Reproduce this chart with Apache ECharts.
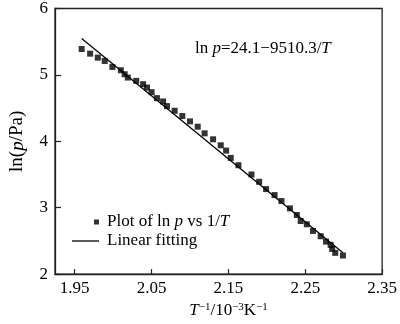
<!DOCTYPE html>
<html>
<head>
<meta charset="utf-8">
<script src="https://cdn.jsdelivr.net/npm/echarts@6/dist/echarts.min.js"></script>
<style>
  html, body { margin: 0; padding: 0; background: #fff; }
  #chart { width: 400px; height: 324px; }
</style>
</head>
<body>
<div id="chart"></div>
<script>
// Measured points: inverse temperature (10^-3 K^-1) and ln p
const invT = [1.959, 1.970, 1.980, 1.989, 1.999, 2.010, 2.015, 2.019, 2.030, 2.039,
              2.044, 2.050, 2.057, 2.065, 2.070, 2.080, 2.090, 2.100, 2.110, 2.119,
              2.130, 2.140, 2.147, 2.153, 2.163, 2.180, 2.190, 2.199, 2.210, 2.219,
              2.230, 2.239, 2.244, 2.252, 2.260, 2.270, 2.277, 2.283, 2.285, 2.289, 2.299];
const lnP = [5.39, 5.32, 5.26, 5.21, 5.12, 5.07, 5.01, 4.96, 4.91, 4.86,
             4.81, 4.74, 4.65, 4.60, 4.53, 4.46, 4.38, 4.30, 4.22, 4.12,
             4.03, 3.94, 3.86, 3.75, 3.64, 3.50, 3.39, 3.28, 3.19, 3.10,
             2.99, 2.89, 2.80, 2.75, 2.65, 2.57, 2.49, 2.44, 2.38, 2.32, 2.28];

// Fitted straight line end points
const fitX = [1.959, 2.299];
const fitY = [5.55, 2.32];

// Tick labels
const xTicks = [1.95, 2.05, 2.15, 2.25, 2.35];
const xTickLabels = ['1.95', '2.05', '2.15', '2.25', '2.35'];
const yTicks = ['2', '3', '4', '5', '6'];

const seriesNames = ['Plot of ln p vs 1/T', 'Linear fitting'];

const INK = '#000';
const FONT = '"Liberation Serif", "Times New Roman", serif';

const chart = echarts.init(document.getElementById('chart'), null, { renderer: 'canvas' });

const scatterData = invT.map((x, i) => [x, lnP[i]]);
const fitData = fitX.map((x, i) => [x, fitY[i]]);

const supRich = {
  i: { fontStyle: 'italic', fontFamily: FONT, fontSize: 17, color: INK },
  r: { fontFamily: FONT, fontSize: 17, color: INK },
  sup: { fontFamily: FONT, fontSize: 11, color: INK, verticalAlign: 'top', padding: [0, 0, 6, 0] }
};

chart.setOption({
  animation: false,
  backgroundColor: '#fff',
  textStyle: { fontFamily: FONT, color: INK },
  grid: {
    left: 42, right: 11, top: 1, bottom: 46,
    show: true, borderColor: '#222', borderWidth: 1.3, backgroundColor: 'transparent'
  },
  xAxis: {
    type: 'value',
    min: 1.9243,
    max: 2.35,
    splitLine: { show: false },
    axisLine: { show: true, onZero: false, lineStyle: { color: '#222', width: 1.3 } },
    axisTick: { show: true, inside: true, length: 5, customValues: xTicks, lineStyle: { color: '#222', width: 1.2 } },
    axisLabel: {
      customValues: xTicks,
      margin: 6,
      fontFamily: FONT, fontSize: 17, color: INK,
      formatter: v => xTickLabels[xTicks.findIndex(t => Math.abs(t - v) < 1e-6)] ?? ''
    },
    name: '{i|T}{sup|−1}{r|/10}{sup|−3}{r|K}{sup|−1}',
    nameLocation: 'middle',
    nameGap: 24,
    nameTextStyle: { rich: supRich, padding: [0, 0, 0, 20] }
  },
  yAxis: {
    type: 'value',
    min: 2, max: 6, interval: 1,
    splitLine: { show: false },
    axisLine: { show: true, onZero: false, lineStyle: { color: '#222', width: 1.3 } },
    axisTick: { show: true, inside: true, length: 6, lineStyle: { color: '#222', width: 1.2 } },
    axisLabel: {
      margin: 7, fontFamily: FONT, fontSize: 17, color: INK,
      formatter: v => yTicks[Math.round(v) - 2]
    },
    name: '{r|ln(}{i|p}{r|/Pa)}',
    nameLocation: 'middle',
    nameGap: 28,
    nameTextStyle: {
      rich: {
        r: { fontFamily: FONT, fontSize: 19, color: INK },
        i: { fontFamily: FONT, fontSize: 19, fontStyle: 'italic', color: INK }
      }
    }
  },
  legend: [
    {
      data: [{ name: seriesNames[0], icon: 'rect' }],
      orient: 'vertical',
      left: 94, top: 213,
      padding: 0,
      itemWidth: 5, itemHeight: 5,
      selectedMode: false,
      formatter: () => '{r|Plot of ln }{i|p}{r| vs 1/}{i|T}',
      textStyle: {
        padding: [0, 0, 0, 3],
        lineHeight: 18,
        rich: {
          r: { fontFamily: FONT, fontSize: 17, color: INK },
          i: { fontFamily: FONT, fontSize: 17, fontStyle: 'italic', color: INK }
        }
      }
    },
    {
      data: [{ name: seriesNames[1], icon: 'rect' }],
      orient: 'vertical',
      left: 72, top: 232,
      padding: 0,
      itemWidth: 27, itemHeight: 1.3,
      selectedMode: false,
      textStyle: { padding: [0, 0, 0, 3], lineHeight: 18, fontFamily: FONT, fontSize: 17, color: INK }
    }
  ],
  graphic: [
    {
      type: 'text',
      left: 195, top: 40,
      style: {
        text: '{r|ln }{i|p}{r|=24.1−9510.3/}{i|T}',
        rich: {
          r: { fontFamily: FONT, fontSize: 17, fill: INK },
          i: { fontFamily: FONT, fontSize: 17, fontStyle: 'italic', fill: INK }
        }
      }
    }
  ],
  series: [
    {
      name: seriesNames[0],
      type: 'scatter',
      data: scatterData,
      symbol: 'rect',
      symbolSize: 6,
      itemStyle: { color: INK },
      z: 3
    },
    {
      name: seriesNames[1],
      type: 'line',
      data: fitData,
      symbol: 'none',
      lineStyle: { color: INK, width: 1.3 },
      itemStyle: { color: INK },
      z: 2
    }
  ]
});
</script>
</body>
</html>
